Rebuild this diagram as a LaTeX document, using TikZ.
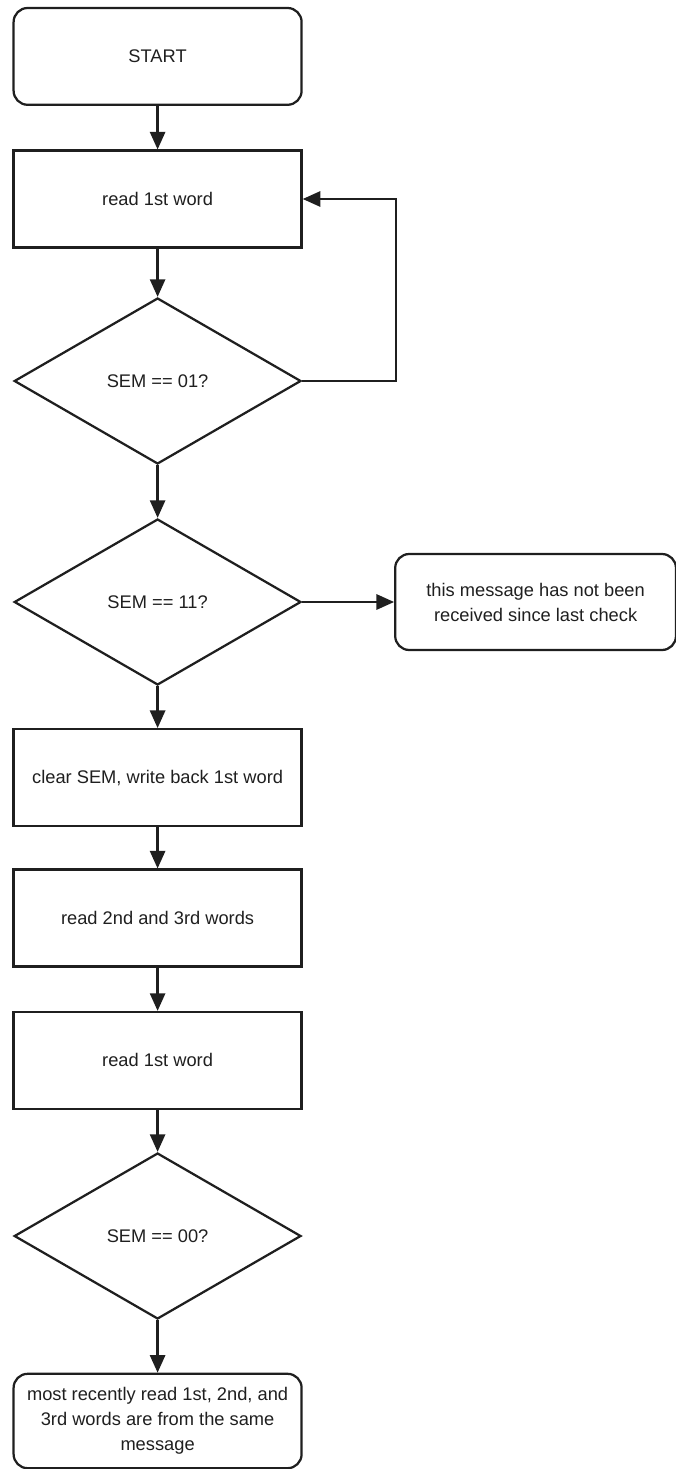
\documentclass[tikz,border=0pt]{standalone}
\usepackage{fontspec}
\setmainfont{Liberation Sans}
\usetikzlibrary{arrows.meta,shapes.geometric}
\colorlet{ink}{black!88}
\tikzset{
  arrow/.style={-{Triangle[length=4.4mm,width=3.8mm]}, draw=ink, line width=1.6pt},
  box/.style={
    rectangle,
    draw=ink,
    line width=1.6pt,
    minimum width=7.2cm,
    minimum height=2.42cm,
    align=center,
    text=ink,
    font=\fontsize{13}{17.8}\selectfont
  },
  terminal/.style={box, rounded corners=10pt},
  decision/.style={
    diamond,
    aspect=1.73,
    draw=ink,
    line width=1.6pt,
    inner sep=0pt,
    minimum width=7.17cm,
    minimum height=4.15cm,
    align=center,
    text=ink,
    font=\fontsize{13}{17.8}\selectfont
  }
}

\begin{document}
\begin{tikzpicture}[x=1cm,y=1cm]
  \useasboundingbox (0,0) rectangle (16.9,-36.725);

  \node[terminal] (start) at (3.94,-1.41) {START};
  \node[box] (read1) at (3.94,-4.975) {read 1st word};
  \node[decision] (sem01) at (3.94,-9.525) {SEM == 01?};
  \node[decision] (sem11) at (3.94,-15.05) {SEM == 11?};
  \node[terminal, minimum width=7.02cm, minimum height=2.4cm] (notrecv) at (13.39,-15.05) {this message has not been\\received since last check};
  \node[box] (clear) at (3.94,-19.44) {clear SEM, write back 1st word};
  \node[box] (read23) at (3.94,-22.95) {read 2nd and 3rd words};
  \node[box] (read1b) at (3.94,-26.51) {read 1st word};
  \node[decision] (sem00) at (3.94,-30.9) {SEM == 00?};
  \node[terminal, minimum height=2.36cm] (same) at (3.94,-35.525) {most recently read 1st, 2nd, and\\3rd words are from the same\\message};

  \coordinate (loopx) at (9.9,0);

  \draw[arrow] (start) -- (read1);
  \draw[arrow] (read1) -- (sem01);
  \draw[arrow] (sem01.east) -- (loopx |- sem01.east) |- (read1.east);
  \draw[arrow] (sem01) -- (sem11);
  \draw[arrow] (sem11.east) -- (notrecv.west);
  \draw[arrow] (sem11) -- (clear);
  \draw[arrow] (clear) -- (read23);
  \draw[arrow] (read23) -- (read1b);
  \draw[arrow] (read1b) -- (sem00);
  \draw[arrow] (sem00) -- (same);
\end{tikzpicture}
\end{document}
